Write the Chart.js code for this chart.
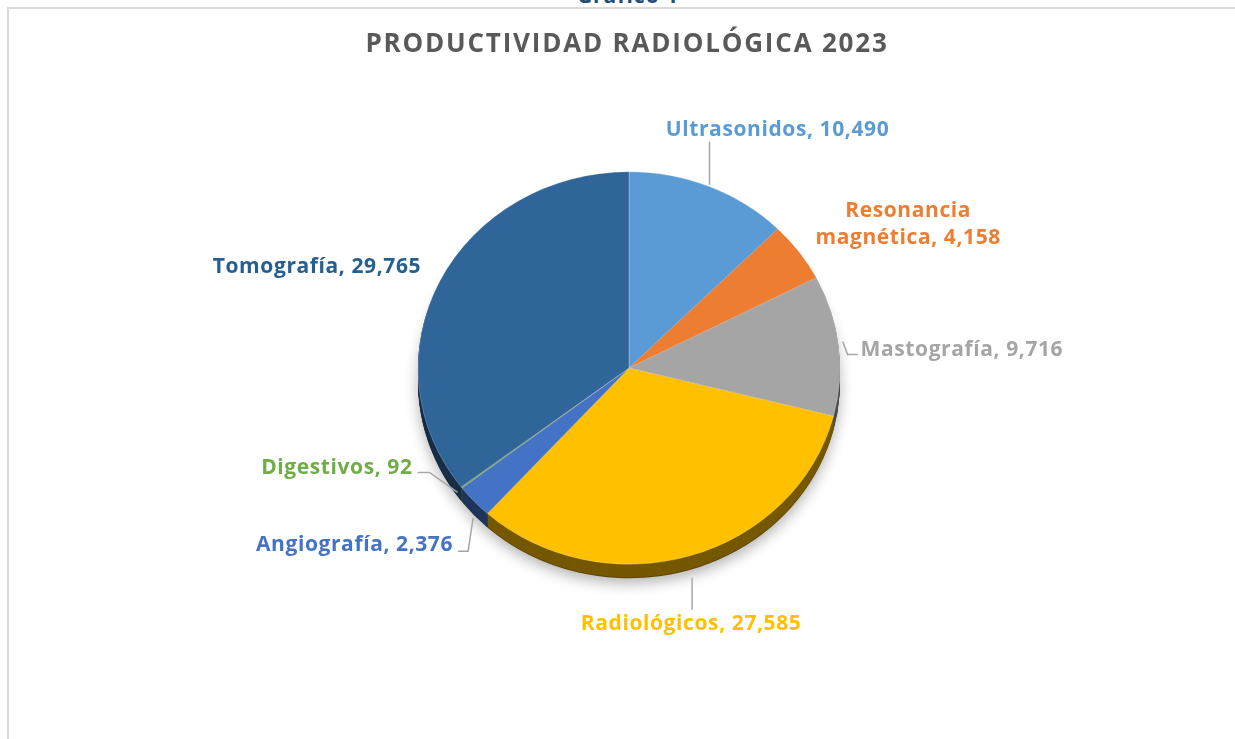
<!DOCTYPE html>
<html>
<head>
<meta charset="utf-8">
<script src="https://cdn.jsdelivr.net/npm/chart.js"></script>
<style>
  body { margin: 0; background: #fff; }
  #wrap { position: relative; width: 1235px; height: 739px; overflow: hidden; }
  #frame { position: absolute; left: 7px; top: 7px; right: 0; bottom: 0;
           border-top: 2px solid #dadada; border-left: 2px solid #dadada; }
  #cap { position: absolute; left: 0; width: 1256px; top: -19px; text-align: center;
         font: 700 21px "Open Sans", sans-serif; letter-spacing: 1px; color: #1f4e79; }
  canvas { position: absolute; left: 0; top: 0; }
</style>
</head>
<body>
<div id="wrap">
  <div id="frame"></div>
  <div id="cap">Gráfico 1</div>
  <canvas id="pie" width="1235" height="739"></canvas>
</div>
<script>
// --- data ---
const categories = ['Ultrasonidos', 'Resonancia magnética', 'Mastografía', 'Radiológicos',
                    'Angiografía', 'Digestivos', 'Tomografía'];
const values = [10490, 4158, 9716, 27585, 2376, 92, 29765];
const sliceColors = ['#5b9bd5', '#ed7d31', '#a5a5a5', '#ffc000', '#4472c4', '#70ad47', '#2f6598'];
const labelColors = ['#5b9bd5', '#ed7d31', '#a5a5a5', '#ffc000', '#4472c4', '#70ad47', '#255e91'];
const titleText = 'PRODUCTIVIDAD RADIOLÓGICA 2023';

// --- look ---
const TILT = 0.93;       // vertical squash of the pie
const DEPTH = 14;        // thickness of the side
const LABEL_FONT = '700 21px "Open Sans", sans-serif';

// label placement relative to the slice edge at its mid angle
// lines: text lines, dx/dy: text anchor offset, align, leader: polyline offsets
const labelLayout = [
  { lines: null, dx: 68, dy: -57, align: 'center', leader: [[0, -2], [0, -45]] },
  { lines: ['Resonancia', 'magnética, 4,158'], dx: 109, dy: -41, align: 'center', leader: null },
  { lines: null, dx: 22, dy: 5, align: 'left', leader: [[4, -4], [9, 9], [19, 9]] },
  { lines: null, dx: 1, dy: 68, align: 'center', leader: [[2, 22], [2, 54]] },
  { lines: null, dx: -21, dy: 44, align: 'right', leader: [[-1, 17], [-6, 50], [-16, 50]] },
  { lines: null, dx: -49, dy: -19, align: 'right', leader: [[-4, 5], [-32, -15], [-44, -15]] },
  { lines: null, dx: -123, dy: -14, align: 'center', leader: null }
];

function fmt(v) { return v.toLocaleString('en-US'); }

function darken(hex, f) {
  const n = parseInt(hex.slice(1), 16);
  const r = Math.round(((n >> 16) & 255) * f);
  const g = Math.round(((n >> 8) & 255) * f);
  const b = Math.round((n & 255) * f);
  return `rgb(${r},${g},${b})`;
}

function slicePath(ctx, el) {
  ctx.beginPath();
  ctx.moveTo(el.x, el.y);
  ctx.arc(el.x, el.y, el.outerRadius, el.startAngle, el.endAngle);
  ctx.closePath();
}

// 3D tilt + side walls, drawn from the library's arc elements
const tiltPlugin = {
  id: 'tilt',
  beforeDatasetsDraw(chart) {
    const ctx = chart.ctx;
    const arcs = chart.getDatasetMeta(0).data;
    const cx = arcs[0].x, cy = arcs[0].y;
    for (let d = DEPTH; d >= 1; d--) {
      ctx.save();
      ctx.translate(cx, cy + d);
      ctx.scale(1, TILT);
      ctx.translate(-cx, -cy);
      if (d === DEPTH) {
        ctx.shadowColor = 'rgba(0,0,0,0.3)';
        ctx.shadowBlur = 14;
        ctx.shadowOffsetY = 5;
      }
      arcs.forEach((el, i) => {
        ctx.fillStyle = darken(sliceColors[i], d === DEPTH ? 0.36 : 0.46);
        slicePath(ctx, el);
        ctx.fill();
      });
      ctx.restore();
    }
    ctx.save();
    ctx.translate(cx, cy);
    ctx.scale(1, TILT);
    ctx.translate(-cx, -cy);
  },
  afterDatasetsDraw(chart) {
    chart.ctx.restore();
  },
  afterDraw(chart) {
    const ctx = chart.ctx;
    const arcs = chart.getDatasetMeta(0).data;

    ctx.save();
    ctx.fillStyle = '#595959';
    ctx.font = '700 26px "Open Sans", sans-serif';
    ctx.letterSpacing = '1.8px';
    ctx.textAlign = 'center';
    ctx.textBaseline = 'middle';
    ctx.fillText(titleText, 627, 45);

    ctx.font = LABEL_FONT;
    ctx.letterSpacing = '0.6px';
    ctx.textBaseline = 'middle';
    arcs.forEach((el, i) => {
      const lay = labelLayout[i];
      const mid = (el.startAngle + el.endAngle) / 2;
      const ex = el.x + el.outerRadius * Math.cos(mid);
      const ey = el.y + el.outerRadius * TILT * Math.sin(mid);
      if (lay.leader) {
        ctx.strokeStyle = '#a6a6a6';
        ctx.lineWidth = 1.5;
        ctx.beginPath();
        lay.leader.forEach(([dx, dy], k) => {
          if (k === 0) ctx.moveTo(ex + dx, ey + dy);
          else ctx.lineTo(ex + dx, ey + dy);
        });
        ctx.stroke();
      }
      const lines = lay.lines || [categories[i] + ', ' + fmt(values[i])];
      ctx.fillStyle = labelColors[i];
      ctx.textAlign = lay.align;
      lines.forEach((t, k) => ctx.fillText(t, ex + lay.dx, ey + lay.dy + k * 27));
    });
    ctx.restore();
  }
};

new Chart(document.getElementById('pie'), {
  type: 'pie',
  data: {
    labels: categories,
    datasets: [{
      data: values,
      backgroundColor: sliceColors,
      borderColor: 'rgba(255,255,255,0.25)',
      borderWidth: 1,
      radius: 211,
      clip: false
    }]
  },
  options: {
    responsive: false,
    animation: false,
    events: [],
    layout: { padding: { top: 157, bottom: 160, left: 23, right: 0 } },
    plugins: { legend: { display: false }, tooltip: { enabled: false }, title: { display: false } }
  },
  plugins: [tiltPlugin]
});
</script>
</body>
</html>
